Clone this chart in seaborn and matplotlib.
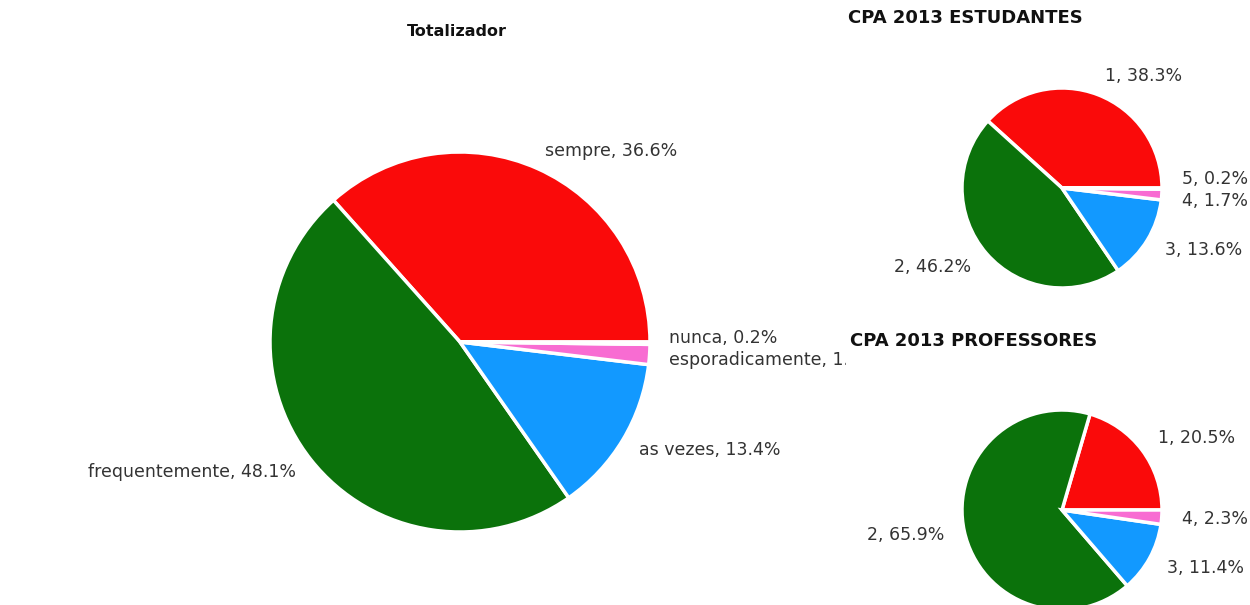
import matplotlib
matplotlib.use("Agg")
import matplotlib.pyplot as plt
import seaborn as sns
from matplotlib.transforms import Bbox, TransformedBbox

# ---- data ----
total_labels = ["sempre", "frequentemente", "as vezes", "esporadicamente", "nunca"]
total_values = [36.6, 48.1, 13.4, 1.7, 0.2]

est_labels = ["1", "2", "3", "4", "5"]
est_values = [38.3, 46.2, 13.6, 1.7, 0.2]

prof_labels = ["1", "2", "3", "4"]
prof_values = [20.5, 65.9, 11.4, 2.3]

titles = ["Totalizador", "CPA 2013 ESTUDANTES", "CPA 2013 PROFESSORES"]

sns.set_theme(style="white")
plt.rcParams["font.family"] = ["DejaVu Sans"]

palette = sns.color_palette(["#FA0A0A", "#0B720B", "#1299FF", "#F86CD2", "#FFCC33"])

W, H = 1250, 605
fig = plt.figure(figsize=(W / 100, H / 100), dpi=100)
fig.patch.set_facecolor("white")


def pie_axes(cx, cy, r):
    half = 1.25 * r
    ax = fig.add_axes([(cx - half) / W, (H - cy - half) / H, 2 * half / W, 2 * half / H])
    return ax


def draw(ax, labels, values, ldist, fs, clip_x=None, nudges=None):
    texts_lbl = [f"{l}, {v}%" for l, v in zip(labels, values)]
    wedges, texts = ax.pie(values, labels=texts_lbl, colors=palette[:len(values)],
                           startangle=0, counterclock=True, labeldistance=ldist,
                           wedgeprops=dict(edgecolor="white", linewidth=2.5),
                           textprops=dict(fontsize=fs, color="#333333"))
    ax.set_xlim(-1.25, 1.25)
    ax.set_ylim(-1.25, 1.25)
    ax.set_aspect("equal")
    ax.axis("off")
    if nudges:
        for i, dy in nudges.items():
            x, y = texts[i].get_position()
            texts[i].set_position((x, y + dy))
    if clip_x is not None:
        box = TransformedBbox(Bbox([[0, 0], [clip_x / W, 1]]), fig.transFigure)
        for t in texts:
            t.set_clip_box(box)
            t.set_clip_on(True)
    return wedges, texts


ax1 = pie_axes(460, 342, 190)
draw(ax1, total_labels, total_values, 1.1, 12.5, clip_x=846,
     nudges={3: -0.02, 4: 0.03})

ax2 = pie_axes(1062, 188, 100)
draw(ax2, est_labels, est_values, 1.2, 12.5, nudges={3: -0.05, 4: 0.1})

ax3 = pie_axes(1062, 510, 100)
draw(ax3, prof_labels, prof_values, 1.2, 12.5)

fig.text(457 / W, 1 - 32 / H, titles[0], ha="center", va="center",
         fontsize=11.5, fontweight="bold", color="#111111")
fig.text(848 / W, 1 - 18 / H, titles[1], ha="left", va="center",
         fontsize=13, fontweight="bold", color="#111111")
fig.text(850 / W, 1 - 341 / H, titles[2], ha="left", va="center",
         fontsize=13, fontweight="bold", color="#111111")

fig.savefig("out.png", dpi=100, facecolor="white")
